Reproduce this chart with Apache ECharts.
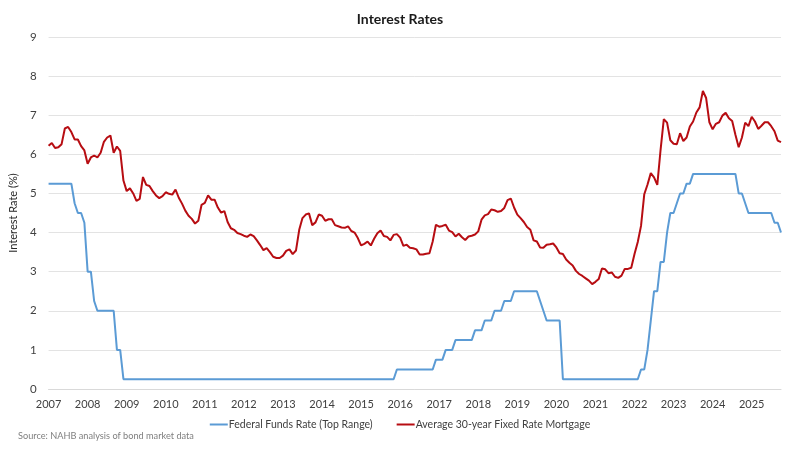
<!DOCTYPE html>
<html>
<head>
<meta charset="utf-8">
<script src="https://cdn.jsdelivr.net/npm/echarts@6/dist/echarts.min.js"></script>
<style>html,body{margin:0;padding:0;background:#fff;}#c{width:800px;height:450px;}</style>
</head>
<body>
<div id="c"></div>
<script>
// Monthly, Jan 2007 – Oct 2025
var years = [2007,2008,2009,2010,2011,2012,2013,2014,2015,2016,2017,2018,2019,2020,2021,2022,2023,2024,2025];
var lastYearMonths = 10;

var fedFunds = [
  // 2007
  5.25,5.25,5.25,5.25,5.25,5.25,5.25,5.25,4.75,4.5,4.5,4.25,
  // 2008
  3.0,3.0,2.25,2.0,2.0,2.0,2.0,2.0,2.0,1.0,1.0,0.25,
  // 2009
  0.25,0.25,0.25,0.25,0.25,0.25,0.25,0.25,0.25,0.25,0.25,0.25,
  // 2010
  0.25,0.25,0.25,0.25,0.25,0.25,0.25,0.25,0.25,0.25,0.25,0.25,
  // 2011
  0.25,0.25,0.25,0.25,0.25,0.25,0.25,0.25,0.25,0.25,0.25,0.25,
  // 2012
  0.25,0.25,0.25,0.25,0.25,0.25,0.25,0.25,0.25,0.25,0.25,0.25,
  // 2013
  0.25,0.25,0.25,0.25,0.25,0.25,0.25,0.25,0.25,0.25,0.25,0.25,
  // 2014
  0.25,0.25,0.25,0.25,0.25,0.25,0.25,0.25,0.25,0.25,0.25,0.25,
  // 2015
  0.25,0.25,0.25,0.25,0.25,0.25,0.25,0.25,0.25,0.25,0.25,0.5,
  // 2016
  0.5,0.5,0.5,0.5,0.5,0.5,0.5,0.5,0.5,0.5,0.5,0.75,
  // 2017
  0.75,0.75,1.0,1.0,1.0,1.25,1.25,1.25,1.25,1.25,1.25,1.5,
  // 2018
  1.5,1.5,1.75,1.75,1.75,2.0,2.0,2.0,2.25,2.25,2.25,2.5,
  // 2019
  2.5,2.5,2.5,2.5,2.5,2.5,2.5,2.25,2.0,1.75,1.75,1.75,
  // 2020
  1.75,1.75,0.25,0.25,0.25,0.25,0.25,0.25,0.25,0.25,0.25,0.25,
  // 2021
  0.25,0.25,0.25,0.25,0.25,0.25,0.25,0.25,0.25,0.25,0.25,0.25,
  // 2022
  0.25,0.25,0.5,0.5,1.0,1.75,2.5,2.5,3.25,3.25,4.0,4.5,
  // 2023
  4.5,4.75,5.0,5.0,5.25,5.25,5.5,5.5,5.5,5.5,5.5,5.5,
  // 2024
  5.5,5.5,5.5,5.5,5.5,5.5,5.5,5.5,5.0,5.0,4.75,4.5,
  // 2025
  4.5,4.5,4.5,4.5,4.5,4.5,4.5,4.25,4.25,4.0
];

var mortgage30 = [
  // 2007
  6.22,6.29,6.16,6.18,6.26,6.66,6.70,6.57,6.38,6.38,6.21,6.10,
  // 2008
  5.76,5.92,5.97,5.92,6.04,6.32,6.43,6.48,6.04,6.20,6.09,5.33,
  // 2009
  5.06,5.13,5.00,4.81,4.86,5.42,5.22,5.19,5.06,4.95,4.88,4.93,
  // 2010
  5.03,4.99,4.97,5.10,4.89,4.74,4.56,4.43,4.35,4.23,4.30,4.71,
  // 2011
  4.76,4.95,4.84,4.84,4.64,4.51,4.55,4.27,4.11,4.07,3.99,3.96,
  // 2012
  3.92,3.89,3.95,3.91,3.80,3.68,3.55,3.60,3.50,3.38,3.35,3.35,
  // 2013
  3.41,3.53,3.57,3.45,3.54,4.07,4.37,4.46,4.49,4.19,4.26,4.46,
  // 2014
  4.43,4.30,4.34,4.34,4.19,4.16,4.13,4.12,4.16,4.04,4.00,3.86,
  // 2015
  3.67,3.71,3.77,3.67,3.84,3.98,4.05,3.91,3.89,3.80,3.94,3.96,
  // 2016
  3.87,3.66,3.69,3.61,3.60,3.57,3.44,3.44,3.46,3.47,3.77,4.20,
  // 2017
  4.15,4.17,4.20,4.05,4.01,3.90,3.97,3.88,3.81,3.90,3.92,3.95,
  // 2018
  4.03,4.33,4.44,4.47,4.59,4.57,4.53,4.55,4.63,4.83,4.87,4.64,
  // 2019
  4.46,4.37,4.27,4.14,4.07,3.80,3.77,3.62,3.61,3.69,3.70,3.72,
  // 2020
  3.62,3.47,3.45,3.31,3.23,3.16,3.02,2.94,2.89,2.83,2.77,2.68,
  // 2021
  2.74,2.81,3.08,3.06,2.96,2.98,2.87,2.84,2.90,3.07,3.07,3.10,
  // 2022
  3.45,3.76,4.17,4.98,5.23,5.52,5.41,5.22,6.11,6.90,6.81,6.36,
  // 2023
  6.27,6.26,6.54,6.34,6.43,6.71,6.84,7.07,7.20,7.62,7.44,6.82,
  // 2024
  6.64,6.78,6.82,6.99,7.06,6.92,6.85,6.50,6.18,6.43,6.81,6.72,
  // 2025
  6.96,6.84,6.65,6.73,6.82,6.82,6.72,6.59,6.35,6.31
];

var yTicks = { min: 0, max: 9, interval: 1 };

var categories = [];
years.forEach(function (y, yi) {
  var n = (yi === years.length - 1) ? lastYearMonths : 12;
  for (var m = 1; m <= n; m++) categories.push(y + '-' + (m < 10 ? '0' + m : m));
});

var FONT = 'Lato, "Open Sans", sans-serif';
var chart = echarts.init(document.getElementById('c'), null, { renderer: 'canvas' });
chart.setOption({
  backgroundColor: '#ffffff',
  animation: false,
  title: {
    text: 'Interest Rates',
    left: 'center',
    top: 7,
    textStyle: { fontFamily: FONT, fontSize: 14, fontWeight: 'bold', color: '#1a1a1a' }
  },
  legend: {
    bottom: 15,
    left: 'center',
    itemWidth: 18,
    itemHeight: 2,
    itemGap: 24,
    textStyle: { fontFamily: FONT, fontSize: 10.5, color: '#404040', padding: [0, 0, 0, -4] },
    data: [
      { name: 'Federal Funds Rate (Top Range)', icon: 'rect' },
      { name: 'Average 30-year Fixed Rate Mortgage', icon: 'rect' }
    ]
  },
  graphic: [{
    type: 'text',
    left: 18,
    top: 432,
    style: { text: 'Source: NAHB analysis of bond market data', fontFamily: FONT, fontSize: 9.2, fill: '#7f7f7f' }
  }],
  grid: { left: 44, right: 19, top: 37, bottom: 61, containLabel: false },
  xAxis: {
    type: 'category',
    data: categories,
    boundaryGap: false,
    axisLine: { show: true, lineStyle: { color: '#d9d9d9', width: 1 } },
    axisTick: { show: false },
    axisLabel: {
      interval: function (index) { return index % 12 === 0; },
      formatter: function (v) { return v.slice(0, 4); },
      fontFamily: FONT, fontSize: 11, color: '#404040', margin: 10
    },
    splitLine: { show: false }
  },
  yAxis: {
    type: 'value',
    min: yTicks.min,
    max: yTicks.max,
    interval: yTicks.interval,
    name: 'Interest Rate (%)',
    nameLocation: 'middle',
    nameGap: 22,
    nameTextStyle: { fontFamily: FONT, fontSize: 11, color: '#262626' },
    axisLine: { show: false },
    axisTick: { show: false },
    axisLabel: { fontFamily: FONT, fontSize: 11.5, color: '#404040', margin: 12 },
    splitLine: { lineStyle: { color: '#e3e3e3', width: 1 } }
  },
  series: [
    {
      name: 'Federal Funds Rate (Top Range)',
      type: 'line',
      data: fedFunds,
      showSymbol: false,
      symbol: 'none',
      lineStyle: { color: '#5b9bd5', width: 2 },
      itemStyle: { color: '#5b9bd5' }
    },
    {
      name: 'Average 30-year Fixed Rate Mortgage',
      type: 'line',
      data: mortgage30,
      showSymbol: false,
      symbol: 'none',
      lineStyle: { color: '#b70d12', width: 2 },
      itemStyle: { color: '#b70d12' }
    }
  ]
});
</script>
</body>
</html>
